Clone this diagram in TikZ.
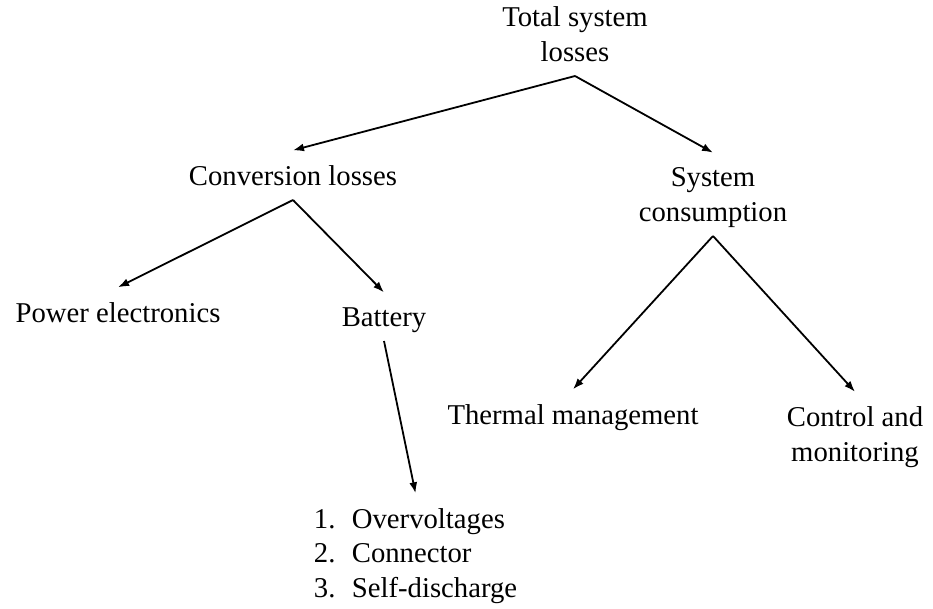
\documentclass[tikz,border=0pt]{standalone}
\usepackage{fontspec}
\setmainfont{Liberation Serif}
\usetikzlibrary{arrows.meta}

\begin{document}
\begin{tikzpicture}[x=1pt,y=-1pt,line width=1.8pt,>={Latex[length=11pt,width=8pt]},
  lbl/.style={font=\fontsize{28.7}{34.5}\selectfont,inner xsep=0pt,inner ysep=14pt,text depth=0pt,anchor=south}]
  \useasboundingbox (0,0) rectangle (933,608);
  % top
  \node[lbl,align=center] (total) at (575,76){Total system\\losses};
  % level 1
  \node[lbl] (conv) at (293,200){Conversion losses};
  \node[lbl,align=center] (cons) at (713,236){System\\consumption};
  % level 2
  \node[lbl] (power) at (118,337){Power electronics};
  \node[lbl] (batt) at (384,341){Battery};
  \node[lbl] (thermal) at (573,439){Thermal management};
  \node[lbl,align=center] (ctrl) at (855,476){Control and\\monitoring};
  % battery losses
  \node[lbl,align=left,anchor=south west] (list) at (313,612){\makebox[38pt][l]{1.}Overvoltages\\\makebox[38pt][l]{2.}Connector\\\makebox[38pt][l]{3.}Self-discharge};
  % arrows
  \draw[->] (total.south)--(conv.north);
  \draw[->] (total.south)--(cons.north);
  \draw[->] (conv.south)--(power.north);
  \draw[->] (conv.south)--(batt.north);
  \draw[->] (cons.south)--(thermal.north);
  \draw[->] (cons.south)--(ctrl.north);
  \draw[->] (batt.south)--(list.north);
\end{tikzpicture}
\end{document}
